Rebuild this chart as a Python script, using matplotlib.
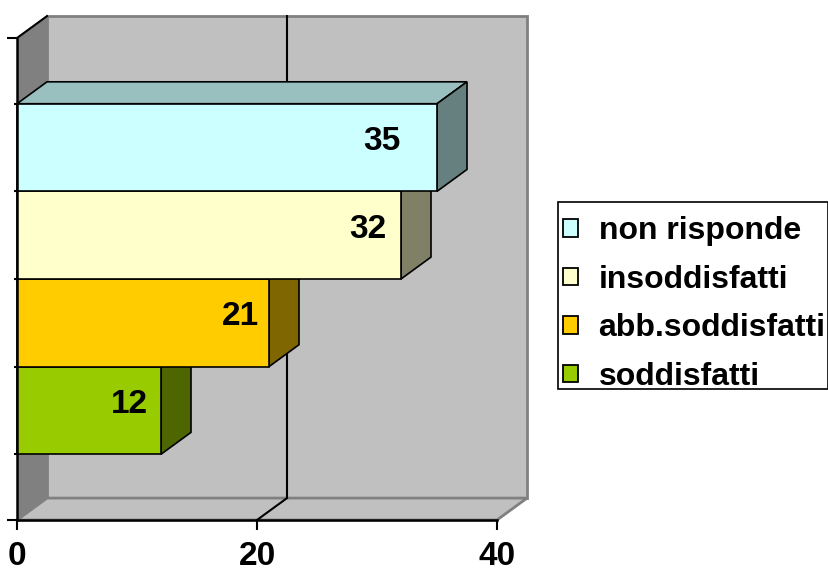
import matplotlib
matplotlib.use('Agg')
import matplotlib.pyplot as plt
from matplotlib.patches import Polygon, Patch, Rectangle
import numpy as np

# data, bottom bar first
categories = ['soddisfatti', 'abb.soddisfatti', 'insoddisfatti', 'non risponde']
values = [12, 21, 32, 35]
x_ticks = [0, 20, 40]

# style
front_colors = ['#99CC00', '#FFCC00', '#FFFFCC', '#CCFFFF']
label_shift = [2.6, 2.4, 2.75, 4.6]   # how far the value label sits left of the bar end
gap = 0.75          # empty space below first / above last bar (bar height = 1)
dx, dy = 2.5, 0.25  # 3D depth offset in data units
xmax = 40

def shade(c, k):
    r, g, b = matplotlib.colors.to_rgb(c)
    return (r*k, g*k, b*k)

plt.rcParams['font.family'] = ['Liberation Sans', 'DejaVu Sans']
plt.rcParams['font.weight'] = 'bold'

fig = plt.figure(figsize=(8.29, 5.72), dpi=100)
ax = fig.add_axes([17/829, 52/572, 480/829, 482/572])
ytop = 2*gap + len(values)
ax.set_xlim(0, xmax)
ax.set_ylim(0, ytop)

''' walls and floor '''
ax.add_patch(Polygon([(dx, dy), (xmax+dx, dy), (xmax+dx, ytop+dy), (dx, ytop+dy)],
                     closed=True, fc='#C0C0C0', ec='#808080', lw=2, clip_on=False, zorder=0))
ax.add_patch(Polygon([(0, 0), (dx, dy), (dx, ytop+dy), (0, ytop)],
                     closed=True, fc='#808080', ec='none', clip_on=False, zorder=0.5))
ax.add_patch(Polygon([(0, 0), (xmax, 0), (xmax+dx, dy), (dx, dy)],
                     closed=True, fc='#C0C0C0', ec='#808080', lw=2, clip_on=False, zorder=0.5))
ax.plot([0, dx], [ytop, ytop+dy], color='k', lw=1.5, clip_on=False, zorder=1)

# gridline at 20 on floor and back wall
for g in x_ticks[1:-1]:
    ax.plot([g, g+dx, g+dx], [0, dy, ytop+dy], color='k', lw=1.5, clip_on=False, zorder=1)

''' bars '''
ypos = [gap + i + 0.5 for i in range(len(values))]
bars = ax.barh(ypos, values, height=1.0, color=front_colors, edgecolor='k', linewidth=1.2)
for i, (b, v, c) in enumerate(zip(bars, values, front_colors)):
    z = 2 + i
    y0 = ypos[i] - 0.5
    y1 = ypos[i] + 0.5
    b.set_zorder(z + 0.5)
    b.set_clip_on(False)
    ax.add_patch(Polygon([(0, y1), (v, y1), (v+dx, y1+dy), (dx, y1+dy)], closed=True,
                         fc=shade(c, 0.75), ec='k', lw=1.2, clip_on=False, zorder=z))
    ax.add_patch(Polygon([(v, y0), (v+dx, y0+dy), (v+dx, y1+dy), (v, y1)], closed=True,
                         fc=shade(c, 0.5), ec='k', lw=1.2, clip_on=False, zorder=z))
    ax.text(v - label_shift[i], ypos[i] + 0.07, str(v), ha='center', va='center',
            fontsize=24, fontweight='bold', zorder=z + 0.6)

''' axes '''
for s in ['top', 'right']:
    ax.spines[s].set_visible(False)
for s in ['left', 'bottom']:
    ax.spines[s].set_linewidth(1.8)
    ax.spines[s].set_zorder(10)
ax.set_facecolor('none')
ax.set_xticks(x_ticks)
ax.set_xticklabels([str(t) for t in x_ticks], fontsize=24, fontweight='bold')
ax.tick_params(axis='x', length=7, width=1.5, pad=8)
ax.set_yticks([0, ytop])
ax.set_yticklabels([])
ax.set_yticks([gap + i for i in range(len(values)+1)], minor=True)
ax.tick_params(axis='y', which='major', length=7, width=1.5)
ax.tick_params(axis='y', which='minor', length=2.5, width=1.5)

''' legend (entries without frame, box drawn separately) '''
handles = [Patch(fc=c, ec='k', lw=1.3) for c in front_colors][::-1]
leg = fig.legend(handles, categories[::-1], loc='upper left',
                 bbox_to_anchor=(557/829, 1 - 210/572),
                 prop={'size': 23, 'weight': 'bold'},
                 handlelength=0.45, handleheight=0.45, handletextpad=0.65,
                 labelspacing=0.58, borderpad=0.2, borderaxespad=0,
                 frameon=False)
fig.add_artist(Rectangle((558/829, 1 - 389/572), 270/829, 187/572, transform=fig.transFigure,
                         fc='none', ec='k', lw=1.2))

fig.savefig('out.png', dpi=100)
